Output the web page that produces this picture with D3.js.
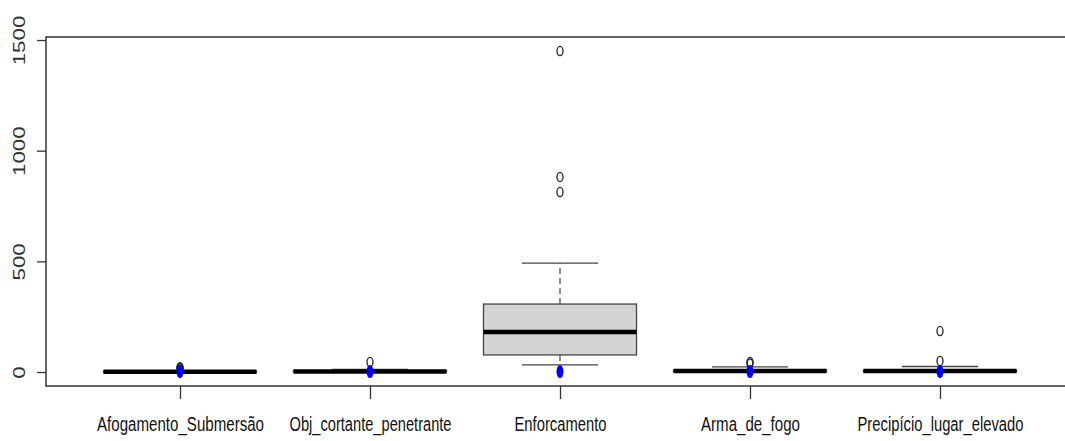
<!DOCTYPE html>
<html>
<head>
<meta charset="utf-8">
<script src="https://cdn.jsdelivr.net/npm/d3@7"></script>
<style>
  body { margin: 0; background: #fff; }
  svg { display: block; }
</style>
</head>
<body>
<div id="chart"></div>
<script>
// Categories and box statistics
const categories = ["Afogamento_Submersão", "Obj_cortante_penetrante", "Enforcamento", "Arma_de_fogo", "Precipício_lugar_elevado"];
const whiskerLow = [0, 0, 32, 0, 0];
const q1 = [0, 1, 77, 1, 1];
const medians = [1, 2, 181, 4, 4];
const q3 = [3, 5, 307, 8, 8];
const whiskerHigh = [6, 12, 492, 23, 25];
const outliers = [[12, 18, 22], [45], [813, 881, 1450], [38, 45], [50, 185]];
const bluePoints = [2, 2, 2, 2, 2];
const yTicks = [0, 500, 1000, 1500];

// label widths in the (stretched) reference picture
const labelWidths = [167, 162, 92, 99, 166];

const W = 1065, H = 441;
const frame = { left: 46, top: 37, bottom: 386, right: 1075 };

const svg = d3.select("#chart").append("svg")
  .attr("width", W)
  .attr("height", H);

const x = d3.scalePoint().domain(categories).range([180, 940]);
const y = d3.scaleLinear().domain([0, 1500]).range([372, 40]);

const boxW = 153, capW = 76;

// frame (right side is cut off in the reference)
svg.append("path")
  .attr("d", `M${frame.right},${frame.top}H${frame.left}V${frame.bottom}H${frame.right}`)
  .attr("fill", "none")
  .attr("stroke", "#333")
  .attr("stroke-width", 1.5);

// Y axis
const yAxis = svg.append("g")
  .attr("transform", `translate(${frame.left},0)`)
  .call(d3.axisLeft(y).tickValues(yTicks).tickSize(9).tickFormat(d3.format("d")));
yAxis.select(".domain").remove();
yAxis.selectAll(".tick line").attr("stroke", "#333").attr("stroke-width", 1.3);
yAxis.selectAll(".tick text")
  .attr("x", 0).attr("y", 0).attr("dy", 0)
  .attr("transform", "translate(-21,0) rotate(-90)")
  .attr("text-anchor", "middle")
  .attr("font-family", "Liberation Sans, Arial, sans-serif")
  .attr("font-size", 16.5)
  .attr("fill", "#333")
  .attr("textLength", d => String(d).length * 12.4)
  .attr("lengthAdjust", "spacingAndGlyphs");

// X axis ticks and labels (labels are vertically stretched in the reference)
const xAxis = svg.append("g")
  .attr("transform", `translate(0,${frame.bottom})`)
  .call(d3.axisBottom(x).tickSize(13).tickPadding(0));
xAxis.select(".domain").remove();
xAxis.selectAll(".tick line").attr("stroke", "#333").attr("stroke-width", 1.3);
xAxis.selectAll(".tick text")
  .attr("y", 0).attr("dy", 0)
  .attr("transform", "translate(0,45) scale(1,1.3)")
  .attr("font-family", "Liberation Sans, Arial, sans-serif")
  .attr("font-size", 15.5)
  .attr("fill", "#111")
  .attr("textLength", (d, i) => labelWidths[i])
  .attr("lengthAdjust", "spacingAndGlyphs");

// boxes
const boxes = svg.append("g").selectAll("g")
  .data(categories)
  .join("g");

boxes.each(function(cat, i) {
  const g = d3.select(this);
  const cx = x(cat);
  // whiskers (dashed)
  g.append("line")
    .attr("x1", cx).attr("x2", cx)
    .attr("y1", y(q3[i])).attr("y2", y(whiskerHigh[i]))
    .attr("stroke", "#555").attr("stroke-width", 1.3)
    .attr("stroke-dasharray", "6,4");
  g.append("line")
    .attr("x1", cx).attr("x2", cx)
    .attr("y1", y(q1[i])).attr("y2", y(whiskerLow[i]))
    .attr("stroke", "#555").attr("stroke-width", 1.3)
    .attr("stroke-dasharray", "6,4");
  // caps
  [whiskerHigh[i], whiskerLow[i]].forEach(v => {
    g.append("line")
      .attr("x1", cx - capW / 2).attr("x2", cx + capW / 2)
      .attr("y1", y(v)).attr("y2", y(v))
      .attr("stroke", "#444").attr("stroke-width", 1.4);
  });
  // box
  g.append("rect")
    .attr("x", cx - boxW / 2)
    .attr("width", boxW)
    .attr("y", y(q3[i]))
    .attr("height", Math.max(0, y(q1[i]) - y(q3[i])))
    .attr("fill", "#d3d3d3")
    .attr("stroke", "#444")
    .attr("stroke-width", 1.3);
  // median
  g.append("line")
    .attr("x1", cx - boxW / 2).attr("x2", cx + boxW / 2)
    .attr("y1", y(medians[i])).attr("y2", y(medians[i]))
    .attr("stroke", "#000").attr("stroke-width", 4.5);
  // outliers
  g.selectAll(".out")
    .data(outliers[i])
    .join("ellipse")
    .attr("class", "out")
    .attr("cx", cx)
    .attr("cy", d => y(d))
    .attr("rx", 3).attr("ry", 4.6)
    .attr("fill", "none")
    .attr("stroke", "#222")
    .attr("stroke-width", 1.3);
  // blue point
  g.append("ellipse")
    .attr("cx", cx)
    .attr("cy", y(bluePoints[i]))
    .attr("rx", 3.5).attr("ry", 6.5)
    .attr("fill", "#0000ff");
});
</script>
</body>
</html>
